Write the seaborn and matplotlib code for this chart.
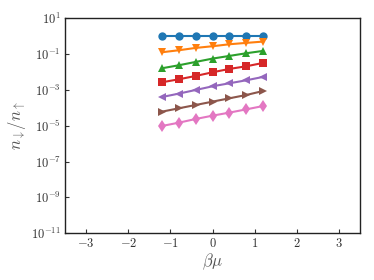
import numpy as np
import pandas as pd
import seaborn as sns
import matplotlib
matplotlib.use("Agg")
import matplotlib.pyplot as plt
from matplotlib.ticker import FixedLocator, NullLocator

beta_mu = [-1.2, -0.8, -0.4, 0.0, 0.4, 0.8, 1.2]

ratio_1 = [1.0, 1.0, 1.0, 1.0, 1.0, 1.0, 1.0]
ratio_2 = [0.126, 0.163, 0.220, 0.273, 0.352, 0.419, 0.497]
ratio_3 = [0.0161, 0.0237, 0.0364, 0.0558, 0.0787, 0.111, 0.150]
ratio_4 = [0.00266, 0.00391, 0.0060, 0.00962, 0.0148, 0.0208, 0.032]
ratio_5 = [4.0e-4, 6.2e-4, 9.9e-4, 1.59e-3, 2.34e-3, 3.44e-3, 5.3e-3]
ratio_6 = [6.1e-5, 9.4e-5, 1.44e-4, 2.21e-4, 3.40e-4, 5.2e-4, 8.7e-4]
ratio_7 = [9.7e-6, 1.48e-5, 2.38e-5, 3.65e-5, 5.4e-5, 8.2e-5, 1.26e-4]

all_ratios = [ratio_1, ratio_2, ratio_3, ratio_4, ratio_5, ratio_6, ratio_7]
markers = ["o", "v", "^", "s", "<", ">", "d"]

y_exponents = [-11, -9, -7, -5, -3, -1, 1]
x_ticks = [-3, -2, -1, 0, 1, 2, 3]

sns.set_style("white")
plt.rcParams["mathtext.fontset"] = "cm"
plt.rcParams["font.family"] = ["DejaVu Serif"]

fig = plt.figure(figsize=(3.74, 2.8), dpi=100)
ax = fig.add_axes([0.174, 0.167, 0.789, 0.768])
colors = sns.color_palette("tab10")

for ii, ratio in enumerate(all_ratios):
    df = pd.DataFrame({"x": beta_mu, "y": ratio})
    sns.lineplot(data=df, x="x", y="y", ax=ax, color=colors[ii],
                 marker=markers[ii], markersize=6, markeredgewidth=0,
                 linewidth=1.5)

ax.set_yscale("log")
ax.set_xlim(-3.5, 3.5)
ax.set_ylim(1e-11, 1e1)
ax.yaxis.set_major_locator(FixedLocator([10.0 ** e for e in y_exponents]))
ax.yaxis.set_minor_locator(NullLocator())
ax.set_yticklabels([f"$10^{{{e}}}$" for e in y_exponents])
ax.set_xticks(x_ticks)
ax.set_xticklabels([f"${v}$" if v >= 0 else f"$-{abs(v)}$" for v in x_ticks])
ax.tick_params(direction="in", length=3, width=0.8, labelsize=9, colors="#333333",
               left=True, bottom=True, pad=3)
for sp in ax.spines.values():
    sp.set_color("#222222")
    sp.set_linewidth(1.0)
ax.set_xlabel(r"$\beta\mu$", fontsize=12, color="#555555", labelpad=1)
ax.set_ylabel(r"$n_{\downarrow}/n_{\uparrow}$", fontsize=12, color="#555555", labelpad=2)

fig.savefig("out.png", dpi=100)
